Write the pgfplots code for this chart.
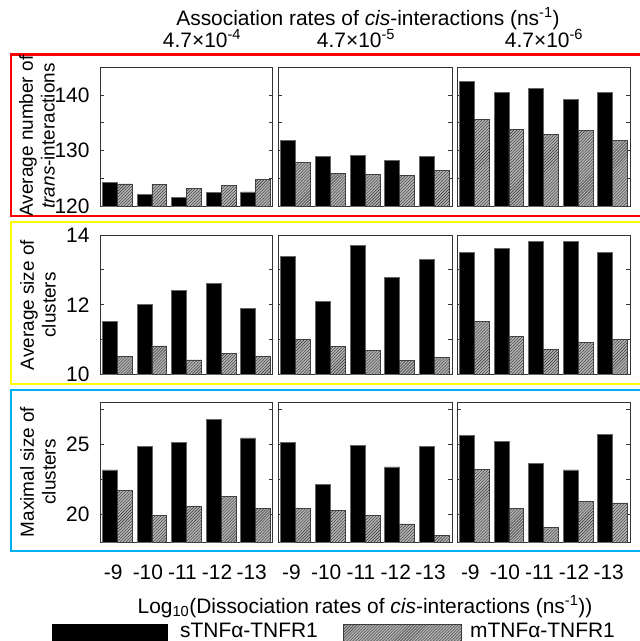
\documentclass[border=0pt]{standalone}
\usepackage{pgfplots}
\pgfplotsset{compat=1.18}
\usepackage{pgfplotstable}
\usetikzlibrary{patterns}
\usepackage{fontspec}
\setmainfont{Liberation Sans}
\definecolor{frameblue}{RGB}{0,176,240}
\definecolor{frameyellow}{RGB}{255,255,0}
\definecolor{framered}{RGB}{255,0,0}
\newcommand{\fbig}{\fontsize{21}{24}\selectfont}
\newcommand{\fyl}{\fontsize{19}{22}\selectfont}
\newcommand{\fyt}{\fontsize{21}{24}\selectfont}

\pgfplotstableread{
x s1 m1 s2 m2 s3 m3
0 124.3 124.05 131.9 127.9 142.4 135.6
1 122.1 123.9 129.0 126.0 140.5 133.8
2 121.7 123.2 129.1 125.7 141.1 132.9
3 122.5 123.75 128.3 125.6 139.2 133.7
4 122.6 124.8 128.9 126.4 140.5 131.9
}\rowA
\pgfplotstableread{
x s1 m1 s2 m2 s3 m3
0 11.52 10.51 13.39 11.01 13.5 11.51
1 12.02 10.82 12.09 10.81 13.62 11.1
2 12.41 10.42 13.7 10.7 13.82 10.72
3 12.62 10.61 12.79 10.41 13.82 10.92
4 11.9 10.51 13.3 10.5 13.5 11.01
}\rowB
\pgfplotstableread{
x s1 m1 s2 m2 s3 m3
0 23.17 21.69 25.11 20.4 25.61 23.21
1 24.86 19.93 22.11 20.3 25.18 20.4
2 25.11 20.58 24.93 19.93 23.61 19.1
3 26.76 21.31 23.38 19.32 23.17 20.92
4 25.44 20.42 24.86 18.52 25.7 20.82
}\rowC

\pgfplotsset{
  panel/.style={
    anchor=north west, scale only axis, width=173bp, height=139.5bp,
    xmin=-0.5, xmax=4.5, ybar=0pt, bar width=0.43,
    axis line style={draw=black!80, line width=1bp},
    tick style={draw=black!80, line width=0.8bp},
    major tick length=4bp, tick align=inside,
    xtick=\empty,
    yticklabel style={font=\fyt, xshift=-7bp},
    /pgf/number format/assume math mode=true,
  },
  noylab/.style={yticklabels={}},
  rA/.style={ymin=120, ymax=145, ytick={120,125,...,140}, yticklabels={120,,130,,140}},
  rB/.style={ymin=10, ymax=14, ytick={10,11,...,14}, yticklabels={10,,12,,14}},
  rC/.style={ymin=18, ymax=28, ytick={20,22.5,25,27.5}, yticklabels={20,,25,},
     xtick={0,1,2,3,4}, xticklabels={-9,-10,-11,-12,-13}, xtick style={draw=none},
     xticklabel style={font=\fbig, yshift=-19bp, xshift=-4bp}},
  sbar/.style={fill=black, draw=black!60, line width=0.7bp},
  mbar/.style={fill=black!30, draw=black!75, line width=0.7bp,
     postaction={pattern=north east lines, pattern color=black!80}},
}

\begin{document}
\begin{tikzpicture}
\draw[framered, line width=2.5bp] (11bp,-54.5bp) rectangle (660bp,-216bp);
\draw[frameyellow, line width=2.5bp] (11bp,-222bp) rectangle (660bp,-384bp);
\draw[frameblue, line width=2.5bp] (11bp,-390bp) rectangle (660bp,-551bp);

% row 1
\begin{axis}[panel, rA, at={(100bp,-67bp)}]
\addplot[sbar] table[x=x,y=s1]{\rowA};
\addplot[mbar] table[x=x,y=m1]{\rowA};
\end{axis}
\begin{axis}[panel, rA, noylab, at={(278bp,-67bp)}, width=174bp]
\addplot[sbar] table[x=x,y=s2]{\rowA};
\addplot[mbar] table[x=x,y=m2]{\rowA};
\end{axis}
\begin{axis}[panel, rA, noylab, at={(457bp,-67bp)}]
\addplot[sbar] table[x=x,y=s3]{\rowA};
\addplot[mbar] table[x=x,y=m3]{\rowA};
\end{axis}
% row 2
\begin{axis}[panel, rB, at={(100bp,-235bp)}]
\addplot[sbar] table[x=x,y=s1]{\rowB};
\addplot[mbar] table[x=x,y=m1]{\rowB};
\end{axis}
\begin{axis}[panel, rB, noylab, at={(278bp,-235bp)}, width=174bp]
\addplot[sbar] table[x=x,y=s2]{\rowB};
\addplot[mbar] table[x=x,y=m2]{\rowB};
\end{axis}
\begin{axis}[panel, rB, noylab, at={(457bp,-235bp)}]
\addplot[sbar] table[x=x,y=s3]{\rowB};
\addplot[mbar] table[x=x,y=m3]{\rowB};
\end{axis}
% row 3
\begin{axis}[panel, rC, at={(100bp,-402bp)}, height=140.5bp]
\addplot[sbar] table[x=x,y=s1]{\rowC};
\addplot[mbar] table[x=x,y=m1]{\rowC};
\end{axis}
\begin{axis}[panel, rC, noylab, at={(278bp,-402bp)}, width=174bp, height=140.5bp]
\addplot[sbar] table[x=x,y=s2]{\rowC};
\addplot[mbar] table[x=x,y=m2]{\rowC};
\end{axis}
\begin{axis}[panel, rC, noylab, at={(457bp,-402bp)}, height=140.5bp]
\addplot[sbar] table[x=x,y=s3]{\rowC};
\addplot[mbar] table[x=x,y=m3]{\rowC};
\end{axis}

% y labels
\node[rotate=90, align=center, font=\fyl] at (37bp,-136bp) {Average number of\\\textit{trans}-interactions};
\node[rotate=90, align=center, font=\fyl] at (38bp,-305bp) {Average size of\\clusters};
\node[rotate=90, align=center, font=\fyl] at (38bp,-472bp) {Maximal size of\\clusters};

% titles
\node[anchor=base, font=\fbig, inner sep=0pt] at (368bp,-25bp) {Association rates of \textit{cis}-interactions (ns\textsuperscript{-1})};
\node[anchor=base, font=\fbig, inner sep=0pt] at (202bp,-47bp) {4.7×10\textsuperscript{-4}};
\node[anchor=base, font=\fbig, inner sep=0pt] at (356bp,-47bp) {4.7×10\textsuperscript{-5}};
\node[anchor=base, font=\fbig, inner sep=0pt] at (544bp,-47bp) {4.7×10\textsuperscript{-6}};

% x label
\node[anchor=base, font=\fbig, inner sep=0pt] at (365bp,-613bp) {Log\textsubscript{10}(Dissociation rates of \textit{cis}-interactions (ns\textsuperscript{-1}))};

% legend
\fill[black] (52bp,-624bp) rectangle (168bp,-650bp);
\node[anchor=base west, font=\fbig, inner sep=0pt] at (180bp,-637bp) {sTNFα-TNFR1};
\path[fill=black!30, draw=black!75, line width=0.7bp, postaction={pattern=north east lines, pattern color=black!80}] (343bp,-624bp) rectangle (461bp,-650bp);
\node[anchor=base west, font=\fbig, inner sep=0pt] at (470bp,-637bp) {mTNFα-TNFR1};

\pgfresetboundingbox
\useasboundingbox (0bp,0bp) rectangle (640bp,-641bp);
\end{tikzpicture}
\end{document}
